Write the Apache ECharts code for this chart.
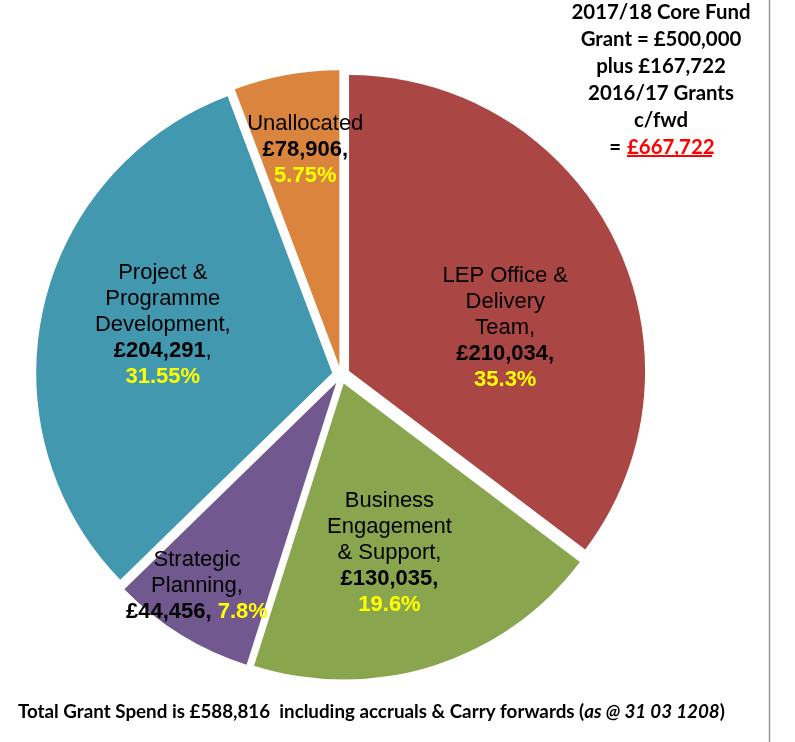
<!DOCTYPE html>
<html><head><meta charset="utf-8">
<script src="https://cdn.jsdelivr.net/npm/echarts@6/dist/echarts.min.js"></script>
<style>html,body{margin:0;padding:0;background:#fff}#c{width:795px;height:742px}</style>
</head><body><div id="c"></div>
<script>
const categories = ["LEP Office &\nDelivery\nTeam", "Business\nEngagement\n& Support", "Strategic\nPlanning", "Project &\nProgramme\nDevelopment", "Unallocated"];
const amounts = ["£210,034", "£130,035", "£44,456", "£204,291", "£78,906"];
const percentages = [35.3, 19.6, 7.8, 31.55, 5.75];
const pctLabels = ["35.3%", "19.6%", "7.8%", "31.55%", "5.75%"];
const colors = ["#AA4643", "#89A54E", "#71588F", "#4198AF", "#DB843D"];
const labelOffsets = [[21, 24], [0, 25], [-60, 75], [-22, -15], [-7, -68]];
const headerLines = ["2017/18 Core Fund", "Grant = £500,000", "plus £167,722", "2016/17 Grants", "c/fwd"];
const headerTotal = "£667,722";

const FONT = "'Liberation Sans', Arial, sans-serif";
const HFONT = "bold 20.4px Lato, 'Open Sans', sans-serif";
const data = categories.map((c, i) => {
  let txt;
  if (i === 2) {
    txt = `{n|${c},}\n{v|${amounts[i]},} {p|${pctLabels[i]}}`;
  } else if (i === 4) {
    txt = `{n|${c}}\n{v|${amounts[i]},}\n{p|${pctLabels[i]}}`;
  } else if (i === 3) {
    txt = `{n|${c},}\n{v|${amounts[i]}}{n|,}\n{p|${pctLabels[i]}}`;
  } else {
    txt = `{n|${c},}\n{v|${amounts[i]},}\n{p|${pctLabels[i]}}`;
  }
  return {
    name: c, value: percentages[i], selected: true,
    itemStyle: { color: colors[i] },
    label: { formatter: txt }
  };
});

const chart = echarts.init(document.getElementById('c'), null, { renderer: 'canvas' });
const rich = {
  n: { fontFamily: FONT, fontSize: 22, color: '#000', lineHeight: 26 },
  v: { fontFamily: FONT, fontSize: 22, fontWeight: 'bold', color: '#000', lineHeight: 26 },
  p: { fontFamily: FONT, fontSize: 22, fontWeight: 'bold', color: '#FFFF00', lineHeight: 26 }
};
const headerGraphics = headerLines.map((t, i) => ({
  type: 'text', x: 661, y: 12 + i * 27,
  style: { text: t, font: HFONT, fill: '#000', textAlign: 'center', textVerticalAlign: 'middle' }
}));
chart.setOption({
  animation: false,
  series: [{
    type: 'pie',
    center: [341, 375],
    radius: [0, 296],
    startAngle: 90,
    clockwise: true,
    selectedMode: 'multiple',
    selectedOffset: 9,
    emphasis: { disabled: true },
    label: { show: true, position: 'inside', align: 'center', rich: rich, fontFamily: FONT, fontSize: 22, color: '#000' },
    labelLayout: function (p) {
      const o = labelOffsets[p.dataIndex];
      return { dx: o[0], dy: o[1] };
    },
    labelLine: { show: false },
    itemStyle: { borderWidth: 0 },
    data: data
  }],
  graphic: headerGraphics.concat([
    { type: 'text', x: 621, y: 147,
      style: { text: '=', font: HFONT, fill: '#000', textAlign: 'right', textVerticalAlign: 'middle' } },
    { type: 'text', x: 627, y: 147,
      style: { text: headerTotal, font: HFONT, fill: '#FF0000', textAlign: 'left', textVerticalAlign: 'middle' } },
    { type: 'line', shape: { x1: 627, y1: 156, x2: 712, y2: 156 }, style: { stroke: '#FF0000', lineWidth: 2 } },
    { type: 'line', shape: { x1: 769.5, y1: 0, x2: 769.5, y2: 742 }, style: { stroke: '#999', lineWidth: 1.5 } },
    { type: 'text', x: 18, y: 712,
      style: { rich: { b: { font: "bold 18.8px Lato, 'Open Sans', sans-serif", fill: '#000' }, i: { font: "italic bold 18.8px Lato, 'Open Sans', sans-serif", fill: '#000' } },
        text: '{b|Total Grant Spend is £588,816  including accruals & Carry forwards (}{i|as @ 31 03 1208}{b|)}', textVerticalAlign: 'middle' } }
  ])
});
</script></body></html>
